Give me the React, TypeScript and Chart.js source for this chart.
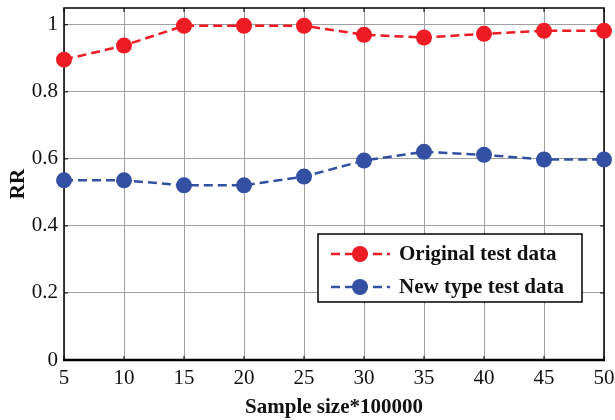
import React, { useEffect, useRef } from "react";
import { Chart, registerables } from "chart.js";

Chart.register(...registerables);

const sampleSizes = [5, 10, 15, 20, 25, 30, 35, 40, 45, 50];
const originalRR = [0.896, 0.938, 0.997, 0.997, 0.997, 0.97, 0.962, 0.973, 0.982, 0.982];
const newTypeRR = [0.536, 0.536, 0.521, 0.521, 0.547, 0.595, 0.621, 0.612, 0.598, 0.598];
const yTicks = [0, 0.2, 0.4, 0.6, 0.8, 1];
const seriesLabels = ["Original test data", "New type test data"];
const seriesColors = ["#ED1C24", "#3350A3"];

const SERIF = "'Liberation Serif', 'Times New Roman', serif";

const framePlugin = {
  id: "frame",
  beforeDatasetsDraw(chart: any) {
    const { ctx, chartArea, scales } = chart;
    const { left, right, top, bottom } = chartArea;
    const x = scales.x;
    const y = scales.y;
    ctx.save();
    ctx.strokeStyle = "#000";
    ctx.lineWidth = 1;
    ctx.beginPath();
    for (const v of sampleSizes) {
      const px = x.getPixelForValue(v);
      ctx.moveTo(px, bottom);
      ctx.lineTo(px, bottom - 4);
      ctx.moveTo(px, top);
      ctx.lineTo(px, top + 4);
    }
    for (const v of yTicks) {
      const py = y.getPixelForValue(v);
      ctx.moveTo(left, py);
      ctx.lineTo(left + 4, py);
      ctx.moveTo(right, py);
      ctx.lineTo(right - 4, py);
    }
    ctx.stroke();
    ctx.lineWidth = 1.5;
    ctx.strokeRect(left, top, right - left, bottom - top);
    ctx.lineWidth = 2.5;
    ctx.beginPath();
    ctx.moveTo(left - 1, bottom);
    ctx.lineTo(right + 1, bottom);
    ctx.stroke();
    ctx.restore();
  },
};

const legendPlugin = {
  id: "customLegend",
  afterDraw(chart: any) {
    const { ctx, chartArea } = chart;
    const bx = chartArea.left + 254;
    const by = chartArea.top + 226;
    const bw = 264;
    const bh = 68;
    ctx.save();
    ctx.fillStyle = "#fff";
    ctx.fillRect(bx, by, bw, bh);
    ctx.strokeStyle = "#000";
    ctx.lineWidth = 1.5;
    ctx.strokeRect(bx, by, bw, bh);
    chart.data.datasets.forEach((ds: any, i: number) => {
      const cy = by + 20 + i * 33;
      ctx.strokeStyle = ds.borderColor;
      ctx.lineWidth = 2.5;
      ctx.setLineDash([9, 5]);
      ctx.beginPath();
      ctx.moveTo(bx + 13, cy);
      ctx.lineTo(bx + 72, cy);
      ctx.stroke();
      ctx.setLineDash([]);
      ctx.fillStyle = ds.backgroundColor;
      ctx.beginPath();
      ctx.arc(bx + 42, cy, 8, 0, Math.PI * 2);
      ctx.fill();
      ctx.fillStyle = "#111";
      ctx.font = `bold 21px ${SERIF}`;
      ctx.textBaseline = "middle";
      ctx.textAlign = "left";
      ctx.fillText(ds.label, bx + 81, cy + 1);
    });
    ctx.restore();
  },
};

export default function App() {
  const canvasRef = useRef<HTMLCanvasElement>(null);

  useEffect(() => {
    if (!canvasRef.current) return;
    const chart = new Chart(canvasRef.current, {
      type: "line",
      data: {
        datasets: [originalRR, newTypeRR].map((vals, i) => ({
          label: seriesLabels[i],
          data: sampleSizes.map((s, j) => ({ x: s, y: vals[j] })),
          borderColor: seriesColors[i],
          backgroundColor: seriesColors[i],
          borderWidth: 2.5,
          borderDash: [9, 5],
          pointRadius: 8,
          pointHoverRadius: 8,
          pointBorderWidth: 0,
          clip: false as any,
          tension: 0,
        })),
      },
      options: {
        animation: false,
        responsive: false,
        events: [],
        layout: { padding: { left: 0, top: 6, right: 11, bottom: 0 } },
        plugins: {
          legend: { display: false },
          tooltip: { enabled: false },
        },
        scales: {
          x: {
            type: "linear",
            min: 5,
            max: 50,
            afterFit(scale: any) {
              scale.height = 60;
              scale.paddingLeft = 0;
              scale.paddingRight = 0;
            },
            afterBuildTicks(scale: any) {
              scale.ticks = sampleSizes.map((v) => ({ value: v }));
            },
            ticks: {
              color: "#111",
              font: { family: SERIF, size: 21 },
              padding: 6,
              maxRotation: 0,
              autoSkip: false,
              callback: (v: any) => String(v),
            },
            grid: { color: "#a0a0a0", lineWidth: 1, drawTicks: false },
            border: { display: false },
            title: {
              display: true,
              text: "Sample size*100000",
              color: "#111",
              font: { family: SERIF, size: 21, weight: "bold" },
              padding: { top: 0, bottom: 0 },
            },
          },
          y: {
            type: "linear",
            min: 0,
            max: 1.05,
            afterFit(scale: any) {
              scale.width = 64;
              scale.paddingTop = 0;
              scale.paddingBottom = 0;
            },
            afterBuildTicks(scale: any) {
              scale.ticks = yTicks.map((v) => ({ value: v }));
            },
            ticks: {
              color: "#111",
              font: { family: SERIF, size: 21 },
              padding: 6,
              callback: (v: any) => String(Math.round(Number(v) * 10) / 10),
            },
            grid: { color: "#a0a0a0", lineWidth: 1, drawTicks: false },
            border: { display: false },
            title: {
              display: true,
              text: "RR",
              color: "#111",
              font: { family: SERIF, size: 21, weight: "bold" },
              padding: { top: 6, bottom: 0 },
            },
          },
        },
      },
      plugins: [framePlugin, legendPlugin],
    });
    return () => chart.destroy();
  }, []);

  return (
    <div style={{ position: "fixed", left: 0, top: 0, width: 615, height: 420, background: "#fff" }}>
      <canvas ref={canvasRef} width={615} height={420} style={{ display: "block" }} />
    </div>
  );
}
